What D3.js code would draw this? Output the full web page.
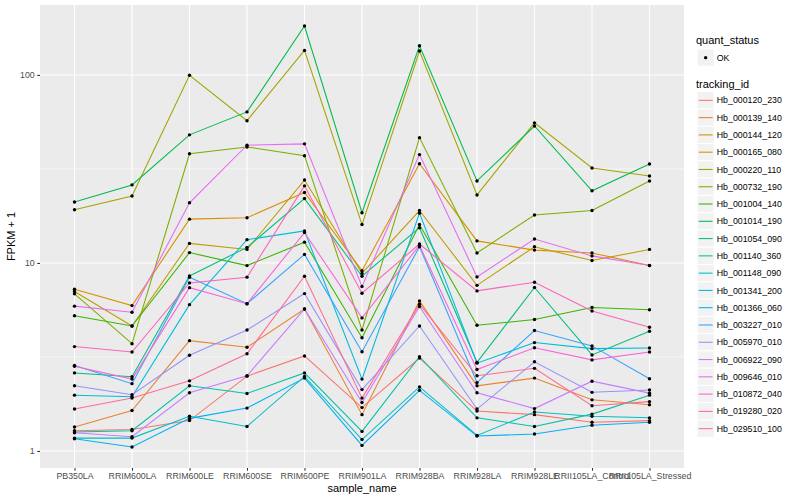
<!DOCTYPE html>
<html>
<head>
<meta charset="utf-8">
<script src="https://cdn.jsdelivr.net/npm/d3@7"></script>
<style>
  body { margin: 0; background: #fff; }
  text { font-family: "Liberation Sans", Arial, Helvetica, sans-serif; }
</style>
</head>
<body>
<svg id="chart" width="800" height="500"></svg>
<script>
// x categories
const samples = ["PB350LA", "RRIM600LA", "RRIM600LE", "RRIM600SE", "RRIM600PE", "RRIM901LA",
  "RRIM928BA", "RRIM928LA", "RRIM928LE", "RRII105LA_Control", "RRII105LA_Stressed"];

const trackingIds = ["Hb_000120_230", "Hb_000139_140", "Hb_000144_120", "Hb_000165_080", "Hb_000220_110",
  "Hb_000732_190", "Hb_001004_140", "Hb_001014_190", "Hb_001054_090", "Hb_001140_360",
  "Hb_001148_090", "Hb_001341_200", "Hb_001366_060", "Hb_003227_010", "Hb_005970_010",
  "Hb_006922_090", "Hb_009646_010", "Hb_010872_040", "Hb_019280_020", "Hb_029510_100"];

const quantStatus = ["OK"];

// FPKM + 1, one value per sample
const hb_000120_230 = [1.28, 1.30, 1.45, 2.50, 3.20, 1.70, 3.12, 1.63, 1.56, 1.42, 1.45];
const hb_000139_140 = [1.34, 1.64, 3.86, 3.56, 5.69, 1.56, 6.28, 2.22, 2.44, 1.87, 1.76];
const hb_000144_120 = [7.25, 5.93, 17.1, 17.4, 23.7, 9.1, 33.7, 13.1, 11.7, 11.3, 9.7];
const hb_000165_080 = [7.05, 4.62, 12.7, 11.8, 27.6, 8.8, 19.0, 7.6, 12.2, 10.3, 11.8];
const hb_000220_110 = [19.2, 22.7, 99.6, 57.1, 135, 16.0, 134, 23.0, 55.6, 32.0, 29.0];
const hb_000732_190 = [6.85, 3.72, 38.1, 41.4, 37.2, 4.4, 46.4, 11.3, 18.0, 19.0, 27.3];
const hb_001004_140 = [5.24, 4.62, 11.35, 9.68, 12.9, 4.0, 16.0, 4.66, 5.0, 5.8, 5.64];
const hb_001014_190 = [21.1, 26.0, 48.0, 63.6, 182, 18.5, 143, 27.3, 53.5, 24.2, 33.6];
const hb_001054_090 = [2.60, 2.48, 8.53, 12.1, 22.0, 8.5, 15.4, 2.96, 7.4, 3.24, 4.33];
const hb_001140_360 = [1.26, 1.28, 2.22, 2.02, 2.60, 1.27, 3.17, 1.50, 1.35, 1.57, 1.98];
const hb_001148_090 = [1.17, 1.17, 1.53, 1.35, 2.49, 1.15, 2.19, 1.21, 1.61, 1.53, 1.50];
const hb_001341_200 = [1.98, 1.94, 6.0, 13.3, 14.8, 2.41, 18.4, 2.93, 3.77, 3.50, 3.53];
const hb_001366_060 = [1.16, 1.05, 1.49, 1.69, 2.44, 1.07, 2.10, 1.20, 1.23, 1.37, 1.42];
const hb_003227_010 = [2.85, 2.28, 8.39, 6.07, 11.1, 3.37, 12.2, 2.31, 4.37, 3.62, 2.42];
const hb_005970_010 = [2.22, 1.99, 3.23, 4.40, 6.87, 2.12, 4.62, 1.67, 2.98, 2.05, 2.11];
const hb_006922_090 = [1.25, 1.19, 2.04, 2.51, 5.69, 1.81, 5.86, 2.04, 1.68, 2.35, 2.03];
const hb_009646_010 = [5.89, 5.47, 20.9, 42.3, 43.0, 7.5, 37.7, 8.43, 13.4, 10.9, 9.68];
const hb_010872_040 = [2.82, 2.41, 7.39, 6.07, 14.5, 5.1, 12.4, 2.71, 3.54, 3.05, 3.36];
const hb_019280_020 = [3.59, 3.36, 7.83, 8.4, 25.7, 6.9, 12.6, 7.1, 7.9, 5.55, 4.55];
const hb_029510_100 = [1.67, 1.91, 2.36, 3.29, 8.5, 1.91, 6.03, 2.51, 2.75, 1.74, 1.83];

const seriesValues = [hb_000120_230, hb_000139_140, hb_000144_120, hb_000165_080, hb_000220_110,
  hb_000732_190, hb_001004_140, hb_001014_190, hb_001054_090, hb_001140_360,
  hb_001148_090, hb_001341_200, hb_001366_060, hb_003227_010, hb_005970_010,
  hb_006922_090, hb_009646_010, hb_010872_040, hb_019280_020, hb_029510_100];

const yBreaks = [1, 10, 100];

// ggplot default hue palette for 20 levels
const hue = ["#F8766D", "#EA8331", "#D89000", "#C09B00", "#A3A500", "#7CAE00", "#39B600", "#00BB4E",
  "#00BF7D", "#00C1A3", "#00BFC4", "#00BAE0", "#00B0F6", "#35A2FF", "#9590FF", "#C77CFF",
  "#E76BF3", "#FA62DB", "#FF62BC", "#FF6C91"];

const series = trackingIds.map((id, i) => ({
  id: id,
  values: seriesValues[i].map((v, j) => ({ sample: samples[j], value: v }))
}));

// panel geometry
var margin = {top: 5, right: 116, bottom: 32, left: 40},
    width = 800 - margin.left - margin.right,
    height = 500 - margin.top - margin.bottom;

var svg = d3.select("#chart");
var g = svg.append("g")
    .attr("transform", "translate(" + margin.left + "," + margin.top + ")");

var x = d3.scalePoint()
    .domain(samples)
    .range([0, width])
    .padding(0.6);

// log scale with ggplot's 5% expansion in log space
var allVals = seriesValues.flat();
var lo = Math.log10(d3.min(allVals)), hi = Math.log10(d3.max(allVals));
var pad = (hi - lo) * 0.05;
var y = d3.scaleLog()
    .domain([Math.pow(10, lo - pad), Math.pow(10, hi + pad)])
    .range([height, 0]);

var color = d3.scaleOrdinal().domain(trackingIds).range(hue);

// panel background
g.append("rect")
    .attr("width", width)
    .attr("height", height)
    .attr("fill", "#EBEBEB");

// minor grid (midpoints in log space)
var minor = [Math.sqrt(10), Math.pow(10, 1.5)];
g.selectAll(".minor").data(minor).enter().append("line")
    .attr("x1", 0).attr("x2", width)
    .attr("y1", d => y(d)).attr("y2", d => y(d))
    .attr("stroke", "#fff").attr("stroke-width", 0.53);

// major grid
g.selectAll(".hmajor").data(yBreaks).enter().append("line")
    .attr("x1", 0).attr("x2", width)
    .attr("y1", d => y(d)).attr("y2", d => y(d))
    .attr("stroke", "#fff").attr("stroke-width", 1.07);
g.selectAll(".vmajor").data(samples).enter().append("line")
    .attr("y1", 0).attr("y2", height)
    .attr("x1", d => x(d)).attr("x2", d => x(d))
    .attr("stroke", "#fff").attr("stroke-width", 1.07);

// lines
var line = d3.line()
    .x(d => x(d.sample))
    .y(d => y(d.value));

g.selectAll(".series").data(series).enter().append("path")
    .attr("d", d => line(d.values))
    .attr("fill", "none")
    .attr("stroke", d => color(d.id))
    .attr("stroke-width", 1.07);

// points
series.forEach(function(s) {
  g.selectAll(null).data(s.values).enter().append("circle")
      .attr("cx", d => x(d.sample))
      .attr("cy", d => y(d.value))
      .attr("r", 1.7)
      .attr("fill", "#000");
});

// axes
var xAxis = g.append("g")
    .attr("transform", "translate(0," + height + ")")
    .call(d3.axisBottom(x).tickSize(2.75).tickPadding(2.5));
var yAxis = g.append("g")
    .call(d3.axisLeft(y).tickValues(yBreaks).tickFormat(d3.format("d")).tickSize(2.75).tickPadding(2.5));

[xAxis, yAxis].forEach(function(a) {
  a.select(".domain").remove();
  a.selectAll(".tick line").attr("stroke", "#333333").attr("stroke-width", 1.07);
  a.selectAll(".tick text")
      .attr("fill", "#4D4D4D")
      .style("font-size", "8.8px")
      .style("font-family", "'Liberation Sans', Arial, sans-serif");
});

// axis titles
svg.append("text")
    .attr("x", margin.left + width / 2)
    .attr("y", 492)
    .attr("text-anchor", "middle")
    .style("font-size", "11px")
    .text("sample_name");
svg.append("text")
    .attr("transform", "translate(15," + (margin.top + height / 2) + ") rotate(-90)")
    .attr("text-anchor", "middle")
    .style("font-size", "11px")
    .text("FPKM + 1");

// legends
var legX = 697, keySize = 17.28;
var leg = svg.append("g");

leg.append("text")
    .attr("x", legX - 1).attr("y", 44)
    .style("font-size", "11px")
    .text("quant_status");
var okKey = leg.selectAll(".qs").data(quantStatus).enter().append("g")
    .attr("transform", (d, i) => "translate(" + legX + "," + (49 + i * keySize) + ")");
okKey.append("rect")
    .attr("width", keySize).attr("height", keySize)
    .attr("fill", "#F2F2F2").attr("stroke", "#fff");
okKey.append("circle")
    .attr("cx", keySize / 2).attr("cy", keySize / 2).attr("r", 1.7).attr("fill", "#000");
okKey.append("text")
    .attr("x", keySize + 2.5).attr("y", keySize / 2 + 3.1)
    .style("font-size", "8.8px")
    .text(d => d);

leg.append("text")
    .attr("x", legX - 1).attr("y", 88)
    .style("font-size", "11px")
    .text("tracking_id");
var keys = leg.selectAll(".tid").data(trackingIds).enter().append("g")
    .attr("transform", (d, i) => "translate(" + legX + "," + (91.7 + i * keySize) + ")");
keys.append("rect")
    .attr("width", keySize).attr("height", keySize)
    .attr("fill", "#F2F2F2").attr("stroke", "#fff");
keys.append("line")
    .attr("x1", 1.7).attr("x2", keySize - 1.7)
    .attr("y1", keySize / 2).attr("y2", keySize / 2)
    .attr("stroke", d => color(d))
    .attr("stroke-width", 1.07);
keys.append("text")
    .attr("x", keySize + 2.5).attr("y", keySize / 2 + 3.1)
    .style("font-size", "8.8px")
    .text(d => d);
</script>
</body>
</html>
